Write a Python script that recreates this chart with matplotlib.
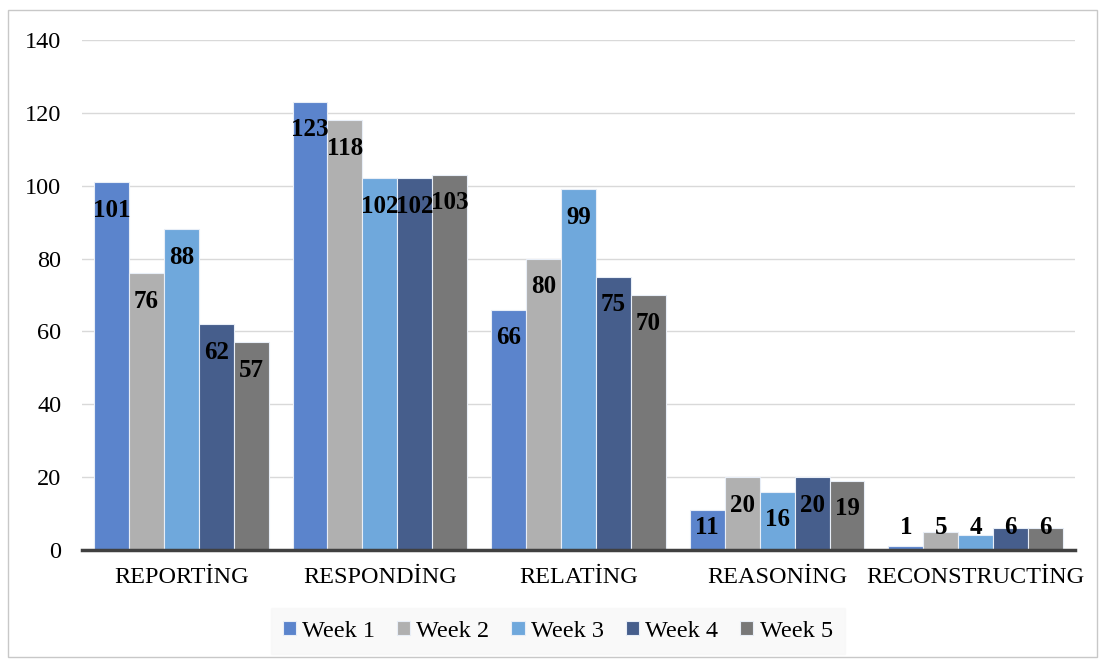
import numpy as np
import matplotlib.pyplot as plt
from matplotlib.patches import Rectangle

# kategori dan nilai per minggu
kategori = ['REPORTİNG', 'RESPONDİNG', 'RELATİNG', 'REASONİNG', 'RECONSTRUCTİNG']
minggu = ['Week 1', 'Week 2', 'Week 3', 'Week 4', 'Week 5']
week1 = [101, 123, 66, 11, 1]
week2 = [76, 118, 80, 20, 5]
week3 = [88, 102, 99, 16, 4]
week4 = [62, 102, 75, 20, 6]
week5 = [57, 103, 70, 19, 6]
warna = ['#5B84CC', '#B0B0B0', '#6FA8DC', '#465E8C', '#787878']

plt.rcParams['font.family'] = ['Liberation Serif', 'DejaVu Serif']

fig = plt.figure(figsize=(11.02, 6.6), dpi=100)
ax = fig.add_axes([0.0744, 0.1667, 0.9011, 0.7727])

x = np.arange(len(kategori))
lebar = 0.176
semua = [week1, week2, week3, week4, week5]
for i, nilai in enumerate(semua):
    pos = x + (i - 2) * lebar
    ax.bar(pos, nilai, lebar, color=warna[i], edgecolor='#E8EEF7', linewidth=0.8,
           label=minggu[i], zorder=3)
    # label angka di ujung dalam batang
    for px, v in zip(pos, nilai):
        ax.text(px, max(v - 7.7, 6.3), str(v), ha='center', va='center',
                fontsize=18, fontweight='bold', color='black', zorder=4)

ax.set_xlim(-0.5, 4.5)
ax.set_ylim(0, 140)
ax.set_yticks(np.arange(0, 141, 20))
ax.yaxis.grid(True, color='#D9D9D9', linewidth=1, zorder=0)
ax.set_xticks(x)
ax.set_xticklabels(kategori)
ax.tick_params(axis='both', length=0, labelsize=17.5)
ax.tick_params(axis='x', pad=12)
ax.tick_params(axis='y', pad=15)
for s in ['top', 'right', 'left']:
    ax.spines[s].set_visible(False)
ax.spines['bottom'].set_color('#404040')
ax.spines['bottom'].set_linewidth(2.5)
ax.spines['bottom'].set_zorder(5)

leg = ax.legend(loc='center', bbox_to_anchor=(0.479, -0.159), ncol=5,
                fontsize=17.5, frameon=True, handlelength=0.55, handleheight=0.55,
                handletextpad=0.25, columnspacing=0.9, borderpad=0.2)
leg.get_frame().set_facecolor('#F8F8F8')
leg.get_frame().set_edgecolor('#F8F8F8')
leg.get_frame().set_boxstyle('square')

# bingkai luar grafik
fig.patches.append(Rectangle((8 / 1102, 3 / 660), 1089 / 1102, 647 / 660,
                             transform=fig.transFigure, fill=False,
                             edgecolor='#C8C8C8', linewidth=1))

plt.savefig('out.png', dpi=100)
